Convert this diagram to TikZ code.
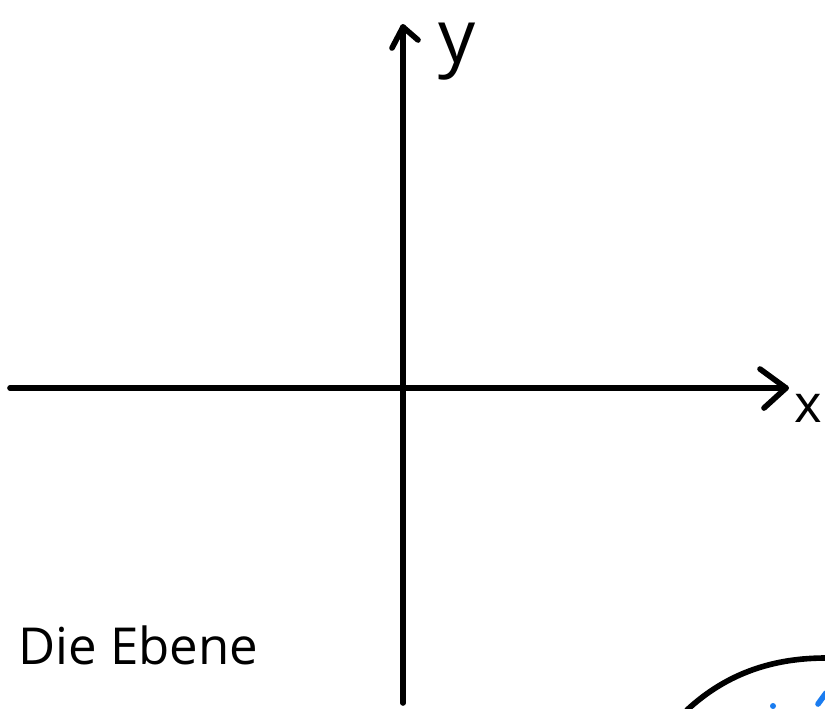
\documentclass[tikz,border=0pt]{standalone}
\usepackage{fontspec}
\setmainfont{Open Sans}
\usetikzlibrary{positioning,calc}
\definecolor{penblue}{RGB}{26,124,240}
\begin{document}
\begin{tikzpicture}[x=0.02cm,y=-0.02cm,
  axis/.style={line width=3.2pt,line cap=round,line join=round},
  lbl/.style={font=\fontsize{34}{38}\selectfont,inner sep=0pt},
  bluemark/.style={line width=3.2pt,line cap=round,draw=penblue}]
\useasboundingbox (0,0) rectangle (825,708);
% axes
\coordinate (xl) at (10,388);
\coordinate (xr) at (786,388);
\coordinate (yb) at (403,703);
\coordinate (yt) at (403,27);
\draw[axis] (xl) -- (xr);
\draw[axis] (760,369) -- (xr) -- (764,408);
\draw[axis] (yb) -- (yt);
\draw[axis] (392,48) -- (yt) -- (418,40);
% labels
\node[lbl,font=\fontsize{42}{46}\selectfont] (ylabel) at (457,52) {y};
\node[lbl,font=\fontsize{30}{34}\selectfont] (xlabel) at (808,408) {x};
\node[lbl,font=\fontsize{29}{34}\selectfont,anchor=west] (title) at (18,645) {Die Ebene};
% cut-off shape at the corner
\draw[axis] (687,710) .. controls (728,672) and (775,658) .. (826,658);
\fill[penblue] (773,706) circle (3);
\draw[bluemark] (818,704) -- (826,693);
\end{tikzpicture}
\end{document}
